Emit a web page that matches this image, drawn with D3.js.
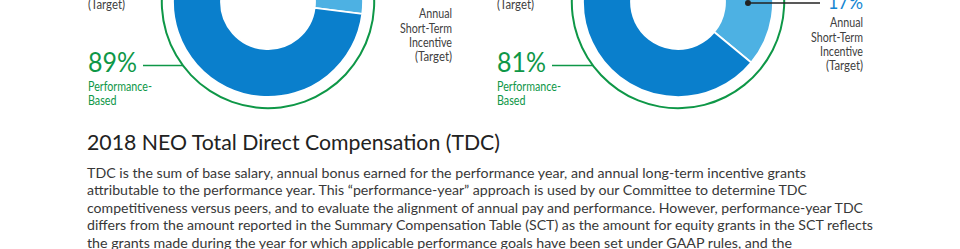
<!DOCTYPE html>
<html lang="en">
<head>
<meta charset="UTF-8">
<title>2018 NEO Total Direct Compensation</title>
<script src="https://cdn.jsdelivr.net/npm/d3@7"></script>
<style>
  html, body { margin: 0; padding: 0; background: #fff; }
  svg { display: block; font-family: Lato, "Open Sans", sans-serif; }
</style>
</head>
<body>
<div id="chart"></div>
<script>
// pay mix data (percent of target pay)
var categories = ["Base Salary", "Annual Short-Term Incentive (Target)", "Long-Term Incentive (Target)"];
var ceoMix = [11, 16, 73];
var neoMix = [19, 17, 64];
var perfBased = [89, 81];
var stLabel = ["Annual", "Short-Term", "Incentive", "(Target)"];
var perfLabel = ["Performance-", "Based"];
var heading = "2018 NEO Total Direct Compensation (TDC)";
var bodyLines = [
  "TDC is the sum of base salary, annual bonus earned for the performance year, and annual long-term incentive grants",
  "attributable to the performance year. This \u201cperformance-year\u201d approach is used by our Committee to determine TDC",
  "competitiveness versus peers, and to evaluate the alignment of annual pay and performance. However, performance-year TDC",
  "differs from the amount reported in the Summary Compensation Table (SCT) as the amount for equity grants in the SCT reflects",
  "the grants made during the year for which applicable performance goals have been set under GAAP rules, and the"
];

var W = 960, H = 249;
var colors = d3.scaleOrdinal().domain(categories).range(["#a7a9ac", "#4db1e3", "#0a7fcc"]);
var green = "#0e9747", ink = "#404040";
// rendered widths of the label lines in the reference font
var stWidths = [33, 52, 43, 37];
var perfWidths = [64, 28.5];
var bodyWidths = [719, 720, 776, 786, 705];

var svg = d3.select("#chart").append("svg").attr("width", W).attr("height", H);

var pie = d3.pie().sort(null).value(function(d){ return d; });
var arc = d3.arc().innerRadius(47).outerRadius(95);
var ring = d3.arc().innerRadius(105.2).outerRadius(107.2);

function fitText(sel, w) {
  return sel.attr("textLength", w).attr("lengthAdjust", "spacingAndGlyphs");
}

// one donut
function donut(values, cx, cy, pct, labelX) {
  var g = svg.append("g").attr("transform", "translate(" + cx + "," + cy + ")");
  var slices = pie(values);
  g.selectAll("path.slice").data(slices).enter().append("path")
    .attr("class", "slice")
    .attr("d", arc)
    .attr("fill", function(d, i){ return colors(categories[i]); })
    .attr("stroke", "#fff").attr("stroke-width", 1.8);

  // green ring around the performance-based part
  g.append("path")
    .attr("d", ring({startAngle: slices[0].endAngle, endAngle: 2 * Math.PI}))
    .attr("fill", green);

  // performance-based callout
  var ly = 65.5;
  var ringX = cx - Math.sqrt(106.2 * 106.2 - (ly - cy) * (ly - cy));
  fitText(svg.append("text").attr("x", labelX).attr("y", 72)
    .attr("fill", green).attr("font-size", 27).text(pct + "%"), 49);
  svg.append("line")
    .attr("x1", labelX + 49 + 6).attr("x2", ringX)
    .attr("y1", ly).attr("y2", ly)
    .attr("stroke", green).attr("stroke-width", 1.6);
  perfLabel.forEach(function(t, i){
    fitText(svg.append("text").attr("x", labelX).attr("y", 90.5 + i * 14.3)
      .attr("fill", green).attr("font-size", 13).text(t), perfWidths[i]);
  });

  // tail of the long-term label (rest is above the crop)
  fitText(svg.append("text").attr("x", labelX).attr("y", 8.5)
    .attr("fill", ink).attr("font-size", 13).text("(Target)"), 37);

  return slices;
}

donut(ceoMix, 268, 2, perfBased[0], 88);
donut(neoMix, 678, 2, perfBased[1], 497);

// short-term incentive labels
function stText(x, y0) {
  svg.append("g").selectAll("text").data(stLabel).enter().append("text")
    .attr("x", x).attr("y", function(d, i){ return y0 + i * 14.2; })
    .attr("text-anchor", "end").attr("fill", ink).attr("font-size", 13)
    .attr("textLength", function(d, i){ return stWidths[i]; })
    .attr("lengthAdjust", "spacingAndGlyphs")
    .text(function(d){ return d; });
}
stText(452, 18.3);
stText(863, 27.3);

// NEO short-term callout with leader dot
var dotY = 3, midR = (47 + 95) / 2;
var dotX = 678 + Math.sqrt(midR * midR - (dotY - 2) * (dotY - 2)) - 1;
svg.append("line").attr("x1", dotX).attr("x2", 820).attr("y1", dotY).attr("y2", dotY)
  .attr("stroke", "#222").attr("stroke-width", 1.4);
svg.append("circle").attr("cx", dotX).attr("cy", dotY).attr("r", 3).attr("fill", "#222");
fitText(svg.append("text").attr("x", 863).attr("y", 8.5).attr("text-anchor", "end")
  .attr("fill", "#1486d2").attr("font-size", 22).text(neoMix[1] + "%"), 35);

// heading and body copy
fitText(svg.append("text").attr("x", 87).attr("y", 150).attr("fill", "#222")
  .attr("font-size", 21).text(heading), 413);

svg.selectAll("text.body").data(bodyLines).enter().append("text")
  .attr("class", "body")
  .attr("x", 87)
  .attr("y", function(d, i){ return 177.5 + i * 17.5; })
  .attr("fill", "#383838").attr("font-size", 14)
  .attr("textLength", function(d, i){ return bodyWidths[i]; })
  .attr("lengthAdjust", "spacingAndGlyphs")
  .text(function(d){ return d; });
</script>
</body>
</html>
